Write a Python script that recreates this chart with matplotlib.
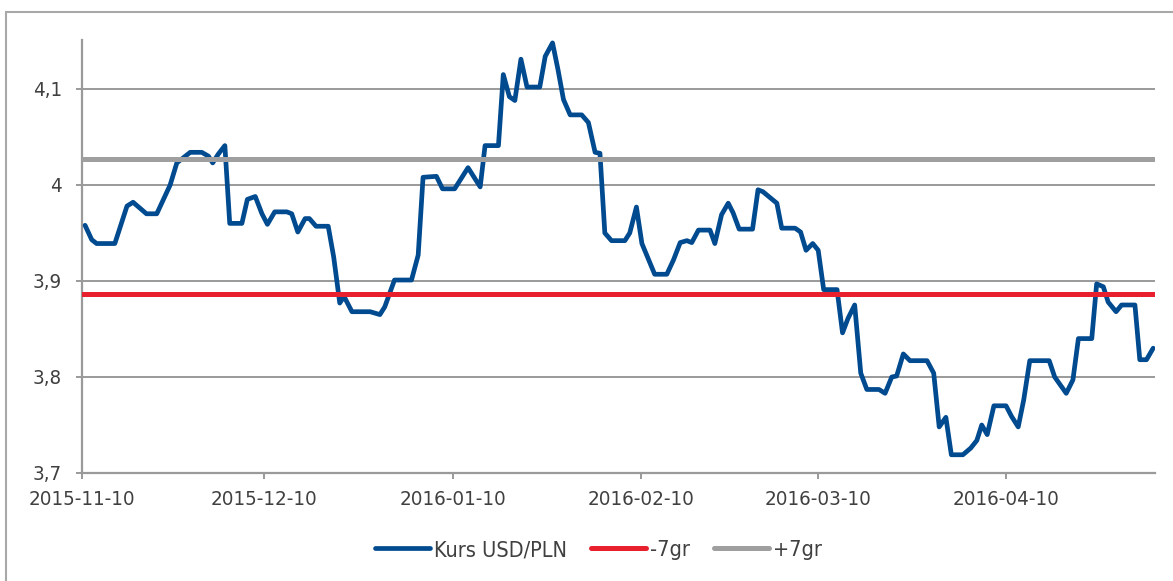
import matplotlib
matplotlib.use("Agg")
import matplotlib.pyplot as plt
from matplotlib.patches import Rectangle
import pandas as pd

plt.rcParams['font.family'] = ['DejaVu Sans']
plt.rcParams['font.stretch'] = 'condensed'

start_date = "2015-11-10"
# days after start_date at which the series changes direction
day_offsets = [
    0.5, 1.6, 2.4, 5.4, 7.4, 8.4, 10.6, 12.3, 14.5, 15.6, 17.8, 19.7, 20.8, 21.5, 22.4,
    23.5, 24.3, 26.3, 27.2, 28.5, 29.6, 30.5, 31.7, 33.7, 34.5, 35.5, 36.7, 37.4, 38.5,
    40.5, 41.4, 42.4, 43.1, 44.4, 47.4, 49.0, 49.8, 51.4, 54.2, 55.3, 56.1, 58.3, 59.3,
    61.3, 62.2, 63.5, 64.6, 65.5, 66.3, 68.5, 69.3, 70.3, 71.2, 72.2, 73.2, 75.3, 76.2,
    77.4, 78.3, 79.2, 80.3, 82.2, 83.3, 84.4, 85.2, 86.0, 87.1, 89.3, 90.1, 91.2, 92.1,
    94.2, 96.2, 97.3, 98.4, 99.5, 100.3, 101.4, 103.3, 104.1, 105.2, 106.3, 107.1, 108.1,
    110.3, 111.2, 112.0, 114.3, 115.1, 117.3, 118.2, 119.1, 120.2, 121.1, 122.0, 124.2,
    125.1, 126.0, 127.1, 128.1, 129.1, 131.1, 132.1, 133.2, 134.0, 135.1, 136.2, 139.0,
    140.1, 141.0, 142.1, 143.0, 144.9, 146.2, 147.2, 148.0, 148.9, 150.0, 152.0, 152.9,
    154.0, 154.9, 155.9, 159.1, 160.0, 161.9, 163.0, 163.9, 166.1, 166.9, 168.0, 168.8,
    170.1, 171.0, 173.2, 174.0, 175.1, 176.2,
]
usd_pln = [
    3.958, 3.943, 3.939, 3.939, 3.978, 3.982, 3.970, 3.970, 4.000, 4.023, 4.034, 4.034, 4.030, 4.023, 4.032,
    4.041, 3.960, 3.960, 3.985, 3.988, 3.970, 3.959, 3.972, 3.972, 3.970, 3.951, 3.965, 3.965, 3.957,
    3.957, 3.925, 3.877, 3.884, 3.868, 3.868, 3.865, 3.873, 3.901, 3.901, 3.927, 4.008, 4.009, 3.996,
    3.996, 4.005, 4.018, 4.007, 3.998, 4.041, 4.041, 4.115, 4.092, 4.088, 4.131, 4.102, 4.102, 4.134,
    4.148, 4.120, 4.089, 4.073, 4.073, 4.065, 4.034, 4.033, 3.950, 3.942, 3.942, 3.950, 3.977, 3.939,
    3.907, 3.907, 3.922, 3.940, 3.942, 3.940, 3.953, 3.953, 3.939, 3.969, 3.981, 3.971, 3.954,
    3.954, 3.995, 3.993, 3.981, 3.955, 3.955, 3.951, 3.932, 3.939, 3.932, 3.891, 3.891,
    3.846, 3.861, 3.875, 3.804, 3.787, 3.787, 3.783, 3.800, 3.801, 3.824, 3.817, 3.817,
    3.804, 3.748, 3.758, 3.719, 3.719, 3.726, 3.734, 3.750, 3.740, 3.770, 3.770, 3.759,
    3.748, 3.776, 3.817, 3.817, 3.800, 3.783, 3.797, 3.840, 3.840, 3.897, 3.894, 3.878,
    3.868, 3.875, 3.875, 3.818, 3.818, 3.830,
]
minus_7gr = 3.886
plus_7gr = 4.027
series_labels = ["Kurs USD/PLN", "-7gr", "+7gr"]
tick_dates = ["2015-11-10", "2015-12-10", "2016-01-10", "2016-02-10", "2016-03-10", "2016-04-10"]
y_ticks = [3.7, 3.8, 3.9, 4.0, 4.1]
y_tick_labels = ["3,7", "3,8", "3,9", "4", "4,1"]

BLUE = "#004a8f"
RED = "#e8202e"
GRAY = "#9f9f9f"
GRID = "#9a9a9a"
TXT = "#404040"
FS_TICK = 14.7
FS_LEG = 15.6

fig = plt.figure(figsize=(11.73, 5.81), dpi=100)
fig.patch.set_facecolor("white")
# outer chart frame
fig.patches.append(Rectangle((6 / 1173, -0.2), 1.3, 1.2 - 12 / 581,
                             transform=fig.transFigure, fill=False,
                             edgecolor="#a8a8a8", linewidth=1.5))

ax = fig.add_axes([82 / 1173, 1 - 473 / 581, (1155 - 82) / 1173, (473 - 40) / 581])

t0 = pd.Timestamp(start_date)
x = [t0 + pd.Timedelta(days=d) for d in day_offsets]

ax.plot(x, usd_pln, color=BLUE, lw=3.4, solid_joinstyle="round",
        solid_capstyle="round", label=series_labels[0], zorder=3)
ax.axhline(minus_7gr, color=RED, lw=3.6, label=series_labels[1], zorder=4,
           solid_capstyle="round")
ax.axhline(plus_7gr, color=GRAY, lw=3.6, label=series_labels[2], zorder=5,
           solid_capstyle="round")

ax.set_xlim(t0, t0 + pd.Timedelta(days=176.5))
ax.set_ylim(3.7, 4.151)

ax.set_yticks(y_ticks)
ax.set_yticklabels(y_tick_labels)
ax.set_xticks([pd.Timestamp(d) for d in tick_dates])
ax.set_xticklabels(tick_dates)

for yv in y_ticks[1:]:
    ax.axhline(yv, color=GRID, lw=1.4, zorder=1)

for s in ["top", "right"]:
    ax.spines[s].set_visible(False)
for s in ["left", "bottom"]:
    ax.spines[s].set_color(GRID)
    ax.spines[s].set_linewidth(1.6)

ax.tick_params(axis="y", length=4.5, width=1.4, color=GRID, pad=10,
               labelsize=FS_TICK, labelcolor=TXT)
ax.tick_params(axis="x", length=4, width=1.4, color=GRID, pad=8,
               labelsize=FS_TICK, labelcolor=TXT)

leg = fig.legend(loc="center", bbox_to_anchor=(0.510, 1 - 550 / 581), ncol=3,
                 frameon=False, fontsize=FS_LEG, handlelength=2.55,
                 handletextpad=0.18, columnspacing=1.1, borderaxespad=0)
for t in leg.get_texts():
    t.set_color(TXT)

fig.savefig("out.png", dpi=100, facecolor="white")
